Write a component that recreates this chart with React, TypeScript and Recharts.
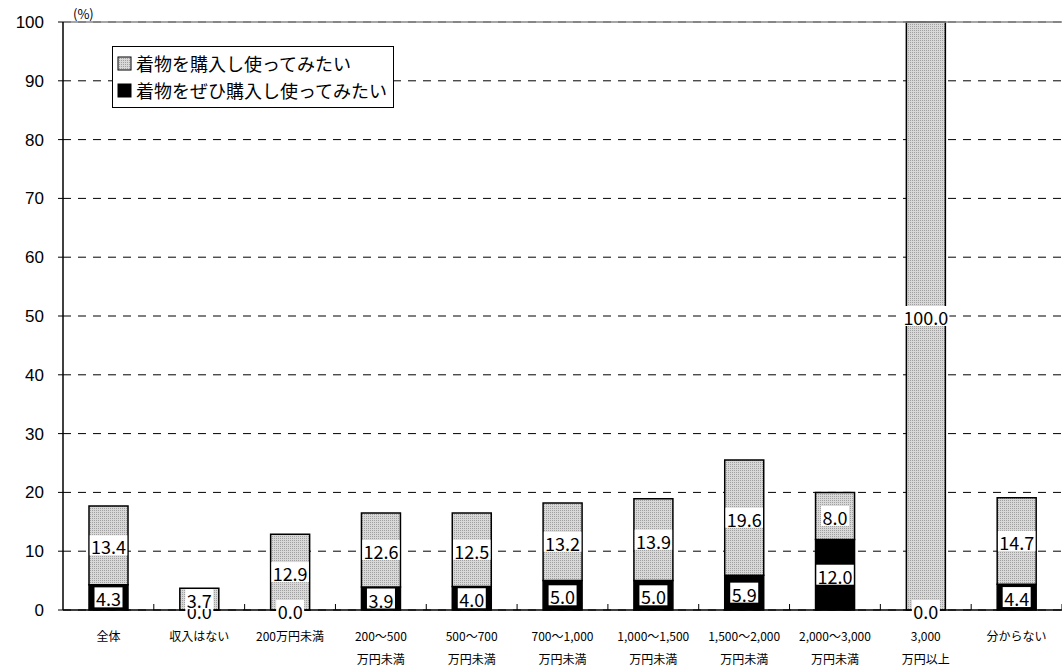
import React from "react";
import {
  BarChart,
  Bar,
  XAxis,
  YAxis,
  CartesianGrid,
  LabelList,
  ReferenceLine,
} from "recharts";

const categories = [
  "全体",
  "収入はない",
  "200万円未満",
  "200～500\n万円未満",
  "500～700\n万円未満",
  "700～1,000\n万円未満",
  "1,000～1,500\n万円未満",
  "1,500～2,000\n万円未満",
  "2,000～3,000\n万円未満",
  "3,000\n万円以上",
  "分からない",
];
const zehi = [4.3, 0.0, 0.0, 3.9, 4.0, 5.0, 5.0, 5.9, 12.0, 0.0, 4.4];
const tsukai = [13.4, 3.7, 12.9, 12.6, 12.5, 13.2, 13.9, 19.6, 8.0, 100.0, 14.7];
const yTicks = [0, 10, 20, 30, 40, 50, 60, 70, 80, 90, 100];
const seriesNames = ["着物を購入し使ってみたい", "着物をぜひ購入し使ってみたい"];

const data = categories.map((name, i) => ({
  name,
  zehi: zehi[i],
  tsukai: tsukai[i],
}));

const jp = "'Noto Sans CJK JP', sans-serif";

const ValueBox = ({ cx, cy, value }: { cx: number; cy: number; value: number }) => {
  const text = value.toFixed(1);
  let w = 4;
  for (const c of text) w += c === "." ? 5 : 9.5;
  return (
    <g>
      <rect x={cx - w / 2} y={cy - 10} width={w} height={20} fill="#fff" />
      <text
        x={cx}
        y={cy + 1}
        textAnchor="middle"
        dominantBaseline="central"
        fontSize={18}
        fontFamily={jp}
        fill="#000"
      >
        {text}
      </text>
    </g>
  );
};

// labels for both segments, drawn from the top segment's geometry so they sit above every bar
const renderLabels = (props: any) => {
  const { x, y, width, height, index } = props;
  const cx = x + width / 2;
  const perUnit = height / tsukai[index];
  const base = y + height;
  const blackH = zehi[index] * perUnit;
  return (
    <g>
      <ValueBox cx={cx} cy={base + blackH / 2} value={zehi[index]} />
      <ValueBox cx={cx} cy={y + height / 2} value={tsukai[index]} />
    </g>
  );
};

const XTick = (props: any) => {
  const { x, y, payload } = props;
  const lines = String(payload.value).split("\n");
  const half = 45.4;
  return (
    <g>
      <line x1={x + half} x2={x + half} y1={y - 6} y2={y} stroke="#000" />
      {lines.map((l, i) => (
        <text
          key={i}
          x={x}
          y={y + 31 + i * 23}
          textAnchor="middle"
          fontSize={12}
          fontFamily={jp}
          fill="#000"
        >
          {l}
        </text>
      ))}
    </g>
  );
};

export default function App() {
  return (
    <div style={{ position: "absolute", left: 0, top: 0, width: 1062, height: 672 }}>
      <BarChart
        width={1062}
        height={672}
        data={data}
        margin={{ top: 22, right: 0, bottom: 0, left: 0 }}
        barSize={39}
      >
        <defs>
          <pattern id="hatch" width="2" height="2" patternUnits="userSpaceOnUse">
            <rect width="2" height="2" fill="#d8d8d8" />
            <rect x="0" y="0" width="1" height="1" fill="#a0a0a0" />
          </pattern>
        </defs>
        <CartesianGrid vertical={false} stroke="#000" strokeDasharray="8 7" />
        <ReferenceLine y={100} stroke="#888" strokeWidth={1.5} />
        <XAxis
          dataKey="name"
          interval={0}
          height={62}
          tick={<XTick />}
          tickLine={false}
          tickSize={0}
          tickMargin={0}
          axisLine={{ stroke: "#000", strokeWidth: 1.5 }}
        />
        <YAxis
          domain={[0, 100]}
          ticks={yTicks}
          width={63}
          tickSize={5}
          tickMargin={14}
          tickLine={{ stroke: "#000" }}
          axisLine={{ stroke: "#000", strokeWidth: 1.5 }}
          tick={{ fontSize: 17, fill: "#000", fontFamily: "'Liberation Sans', Arial, sans-serif" }}
        />
        <Bar
          dataKey="zehi"
          name={seriesNames[1]}
          stackId="a"
          fill="#000"
          stroke="#000"
          strokeWidth={1.5}
          isAnimationActive={false}
        />
        <Bar
          dataKey="tsukai"
          name={seriesNames[0]}
          stackId="a"
          fill="url(#hatch)"
          stroke="#000"
          strokeWidth={1.5}
          isAnimationActive={false}
        >
          <LabelList dataKey="tsukai" content={renderLabels} />
        </Bar>
      </BarChart>
      <div
        style={{
          position: "absolute",
          left: 73,
          top: 4,
          fontSize: 13,
          fontFamily: jp,
        }}
      >
        (%)
      </div>
      <div
        style={{
          position: "absolute",
          left: 112,
          top: 46,
          border: "1px solid #000",
          background: "#fff",
          width: 276,
          padding: "3px 0 3px 4px",
          fontFamily: jp,
          fontSize: 18,
          lineHeight: "27px",
        }}
      >
        {seriesNames.map((n, i) => (
          <div key={n} style={{ display: "flex", alignItems: "center" }}>
            <svg width={16} height={16} style={{ marginRight: 3 }}>
              <rect
                x={1}
                y={1}
                width={13}
                height={13}
                fill={i === 0 ? "url(#hatch)" : "#000"}
                stroke="#000"
                strokeWidth={1}
              />
            </svg>
            <span>{n}</span>
          </div>
        ))}
      </div>
    </div>
  );
}
